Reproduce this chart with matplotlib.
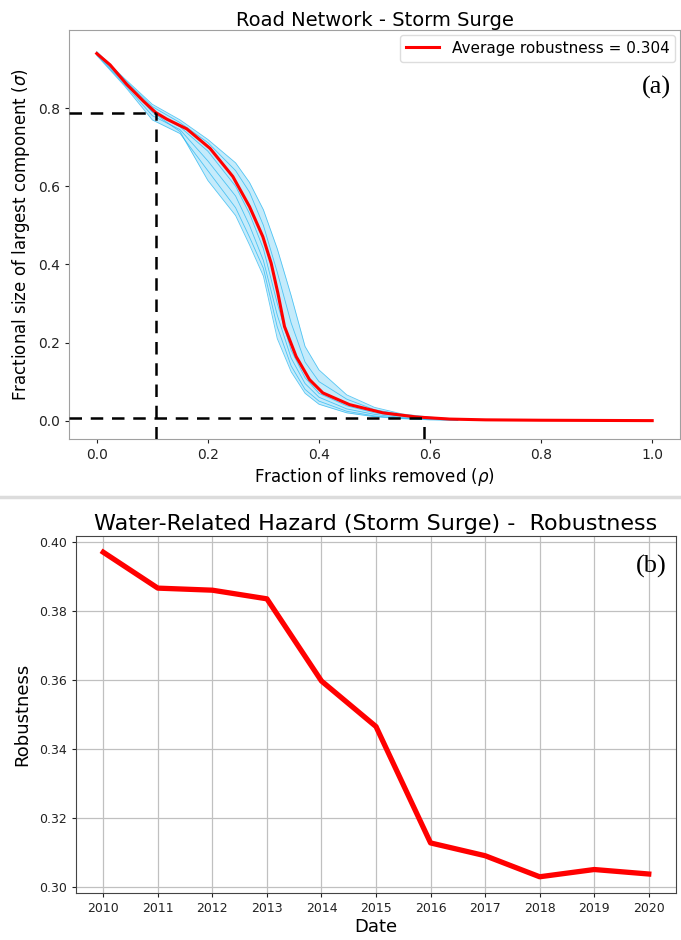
import numpy as np
import matplotlib.pyplot as plt
from matplotlib.lines import Line2D

# panel (a): percolation curves
mean_x = [0, 0.024, 0.054, 0.084, 0.106, 0.126, 0.162, 0.204, 0.245, 0.275, 0.299, 0.314,
          0.326, 0.338, 0.359, 0.383, 0.407, 0.455, 0.515, 0.575, 0.635, 0.7, 0.8, 0.9, 1.0]
mean_y = [0.940, 0.911, 0.861, 0.818, 0.789, 0.772, 0.747, 0.697, 0.625, 0.548, 0.471, 0.403,
          0.327, 0.241, 0.164, 0.105, 0.071, 0.041, 0.020, 0.0094, 0.004, 0.002, 0.001, 0.0005, 0.0]

run_x = [0, 0.05, 0.1, 0.15, 0.2, 0.25, 0.275, 0.3, 0.325, 0.35, 0.375, 0.4, 0.45, 0.5, 0.55, 0.6, 0.65]
run1 = [0.945, 0.876, 0.81, 0.77, 0.72, 0.66, 0.61, 0.54, 0.44, 0.32, 0.19, 0.13, 0.066, 0.034, 0.017, 0.009, 0.004]
run2 = [0.943, 0.872, 0.804, 0.763, 0.712, 0.64, 0.585, 0.5, 0.38, 0.25, 0.15, 0.10, 0.055, 0.028, 0.015, 0.008, 0.003]
run3 = [0.939, 0.866, 0.792, 0.752, 0.69, 0.60, 0.53, 0.44, 0.30, 0.18, 0.11, 0.07, 0.038, 0.02, 0.011, 0.006, 0.002]
run4 = [0.937, 0.861, 0.781, 0.745, 0.665, 0.575, 0.50, 0.41, 0.27, 0.16, 0.095, 0.06, 0.03, 0.016, 0.008, 0.004, 0.002]
run5 = [0.935, 0.857, 0.77, 0.735, 0.64, 0.545, 0.47, 0.39, 0.24, 0.14, 0.08, 0.05, 0.024, 0.012, 0.006, 0.003, 0.001]
run6 = [0.94, 0.868, 0.79, 0.74, 0.615, 0.525, 0.45, 0.37, 0.21, 0.125, 0.07, 0.042, 0.02, 0.01, 0.005, 0.002, 0.001]
runs = [run1, run2, run3, run4, run5, run6]

rho_c = [0.106, 0.59]
sigma_c = [0.787, 0.007]

# panel (b): robustness per year
years = [2010, 2011, 2012, 2013, 2014, 2015, 2016, 2017, 2018, 2019, 2020]
robust = [0.3971, 0.3867, 0.3861, 0.3836, 0.3598, 0.3466, 0.3129, 0.3092, 0.3031, 0.3052, 0.3039]

fig = plt.figure(figsize=(6.81, 9.40), dpi=100)

# ---- (a)
ax1 = fig.add_axes([0.1013, 0.533, 0.8972, 0.435])
blue = '#1ab2f0'
ax1.fill_between(run_x, np.min(runs, axis=0), np.max(runs, axis=0), color=blue, alpha=0.25, lw=0)
for r in runs:
    ax1.plot(run_x, r, color=blue, lw=0.6, alpha=0.7)
ax1.plot(mean_x, mean_y, color='red', lw=2.2, label='Average robustness = 0.304', zorder=5)

ax1.set_xlim(-0.05, 1.05)
ax1.set_ylim(-0.047, 1.0)
for xc, yc in zip(rho_c, sigma_c):
    ax1.plot([-0.05, xc], [yc, yc], 'k--', lw=1.8, dashes=(5, 3.5), zorder=6)
    ax1.plot([xc, xc], [-0.047, yc], 'k--', lw=1.8, dashes=(5, 3.5), zorder=6)

ax1.set_xticks([0.0, 0.2, 0.4, 0.6, 0.8, 1.0])
ax1.set_yticks([0.0, 0.2, 0.4, 0.6, 0.8])
ax1.tick_params(labelsize=10, colors='#222222', length=3)
for s in ax1.spines.values():
    s.set_color('#a0a0a0')
ax1.set_xlabel(r'Fraction of links removed ($\rho$)', fontsize=12, labelpad=3)
ax1.set_ylabel(r'Fractional size of largest component ($\sigma$)', fontsize=12, labelpad=4)
ax1.set_title('Road Network - Storm Surge', fontsize=14, pad=3)
ax1.legend(loc='upper right', fontsize=11, handlelength=2.2, framealpha=1,
           edgecolor='#dddddd', borderaxespad=0.3)
ax1.text(0.985, 0.86, '(a)', transform=ax1.transAxes, ha='right', va='center',
         fontsize=19, family='Liberation Serif')

# separator between the two panels
fig.add_artist(Line2D([0.0, 1.0], [0.471, 0.471], transform=fig.transFigure,
                      color='#dcdcdc', lw=2.5))

# ---- (b)
ax2 = fig.add_axes([0.1116, 0.05, 0.8811, 0.3798])
ax2.plot(years, robust, color='red', lw=3.8)
ax2.set_xticks(years)
ax2.set_yticks([0.30, 0.32, 0.34, 0.36, 0.38, 0.40])
ax2.set_yticklabels(['0.30', '0.32', '0.34', '0.36', '0.38', '0.40'])
ax2.grid(True, color='#c0c0c0', lw=0.9)
ax2.tick_params(labelsize=9, colors='#222222', length=3)
for s in ax2.spines.values():
    s.set_color('#444444')
ax2.set_xlabel('Date', fontsize=13, labelpad=2)
ax2.set_ylabel('Robustness', fontsize=13, labelpad=6)
ax2.set_title('Water-Related Hazard (Storm Surge) -  Robustness', fontsize=16, pad=4)
ax2.text(0.985, 0.915, '(b)', transform=ax2.transAxes, ha='right', va='center',
         fontsize=19, family='Liberation Serif')

fig.savefig('out.png', dpi=100)
